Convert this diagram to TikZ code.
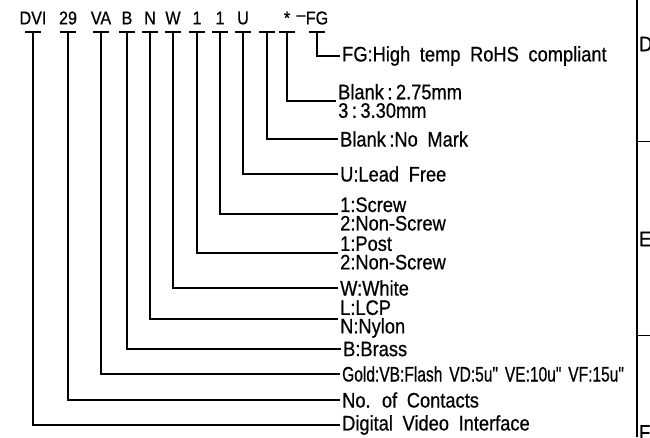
\documentclass[tikz,border=0pt]{standalone}
\usepackage{fontspec}
\setmainfont[FakeStretch=0.87,FakeBold=0.6,WordSpace=1.9]{Liberation Sans}
\newfontfamily\narrowfont[FakeStretch=0.74,FakeBold=0.6,WordSpace=1.6]{Liberation Sans}
\usepackage{tikz}

\tikzset{
	code/.style={inner sep=0pt, font=\fontsize{18.5}{18}\selectfont},
	lbl/.style={anchor=west, inner sep=2pt, align=left, font=\fontsize{21}{18.5}\selectfont},
	lead/.style={line width=1.2pt},
	zone/.style={anchor=west, inner sep=0pt, font=\fontsize{21}{18}\selectfont}
}

\begin{document}
\begin{tikzpicture}[x=1pt, y=-1pt]
	\useasboundingbox (0,0) rectangle (650,437);

	% Part number codes
	\node[code] (dvi) at (33,18) {DVI};
	\node[code] (cnt) at (68,18) {29};
	\node[code] (plt) at (101,18) {VA};
	\node[code] (brs) at (127,18) {B};
	\node[code] (nyl) at (150,18) {N};
	\node[code] (wht) at (173,18) {W};
	\node[code] (pst) at (197,18) {1};
	\node[code] (scr) at (220,18) {1};
	\node[code] (lfr) at (243,18) {U};
	\node[code] (pit) at (287,18) {*};
	\node[code] (dsh) at (301,18) {--};
	\node[code] (hrt) at (317,18) {FG};

	% Tee marks under the codes
	\coordinate (t-dvi) at (33,32);
	\coordinate (t-cnt) at (68,32);
	\coordinate (t-plt) at (101,32);
	\coordinate (t-brs) at (127,32);
	\coordinate (t-nyl) at (150,32);
	\coordinate (t-wht) at (173,32);
	\coordinate (t-pst) at (197,32);
	\coordinate (t-scr) at (220,32);
	\coordinate (t-lfr) at (243,32);
	\coordinate (t-mrk) at (267,32);
	\coordinate (t-pit) at (287,32);
	\coordinate (t-hrt) at (317,32);
	\draw[lead] (t-dvi) +(-8,0) -- +(8,0);
	\draw[lead] (t-cnt) +(-8,0) -- +(8,0);
	\draw[lead] (t-plt) +(-8,0) -- +(8,0);
	\draw[lead] (t-brs) +(-8,0) -- +(8,0);
	\draw[lead] (t-nyl) +(-8,0) -- +(8,0);
	\draw[lead] (t-wht) +(-8,0) -- +(8,0);
	\draw[lead] (t-pst) +(-8,0) -- +(8,0);
	\draw[lead] (t-scr) +(-8,0) -- +(8,0);
	\draw[lead] (t-lfr) +(-8,0) -- +(8,0);
	\draw[lead] (t-mrk) +(-8,0) -- +(8,0);
	\draw[lead] (t-pit) +(-8,0) -- +(8,0);
	\draw[lead] (t-hrt) +(-8,0) -- +(8,0);

	% Explanations
	\node[lbl] (l-hrt) at (340,56) {FG:High temp RoHS compliant};
	\node[lbl] (l-pit) at (336,101) {Blank\,:\,2.75mm\\3\,:\,3.30mm};
	\node[lbl] (l-mrk) at (338,139) {Blank\,:No Mark};
	\node[lbl] (l-lfr) at (338,174) {U:Lead Free};
	\node[lbl] (l-scr) at (338,214) {1:Screw\\2:Non-Screw};
	\node[lbl] (l-pst) at (338,253) {1:Post\\2:Non-Screw};
	\node[lbl] (l-wht) at (338,288) {W:White};
	\node[lbl] (l-nyl) at (338,319) {L:LCP\\N:Nylon};
	\node[lbl] (l-brs) at (341,349) {B:Brass};
	\node[lbl] (l-plt) at (340,374) {\narrowfont Gold:VB:Flash VD:5u" VE:10u" VF:15u"};
	\node[lbl] (l-cnt) at (340,400) {No. of Contacts};
	\node[lbl] (l-dvi) at (340,425) {Digital Video Interface};

	% Leaders
	\draw[lead] (t-hrt) |- (l-hrt.west);
	\draw[lead] (t-pit) |- (l-pit.west);
	\draw[lead] (t-mrk) |- (l-mrk.west);
	\draw[lead] (t-lfr) |- (l-lfr.west);
	\draw[lead] (t-scr) |- (l-scr.west);
	\draw[lead] (t-pst) |- (l-pst.west);
	\draw[lead] (t-wht) |- (l-wht.west);
	\draw[lead] (t-nyl) |- (l-nyl.west);
	\draw[lead] (t-brs) |- (l-brs.west);
	\draw[lead] (t-plt) |- (l-plt.west);
	\draw[lead] (t-cnt) |- (l-cnt.west);
	\draw[lead] (t-dvi) |- (l-dvi.west);

	% Drawing frame at the right
	\draw[line width=2pt] (637,0) -- (637,437);
	\draw[line width=1pt] (637,141) -- (650,141);
	\draw[line width=1pt] (637,335) -- (650,335);
	\node[zone] (zn-d) at (639,44) {D};
	\node[zone] (zn-e) at (639,239) {E};
	\node[zone, anchor=north west] (zn-f) at (639,425) {F};
\end{tikzpicture}
\end{document}
